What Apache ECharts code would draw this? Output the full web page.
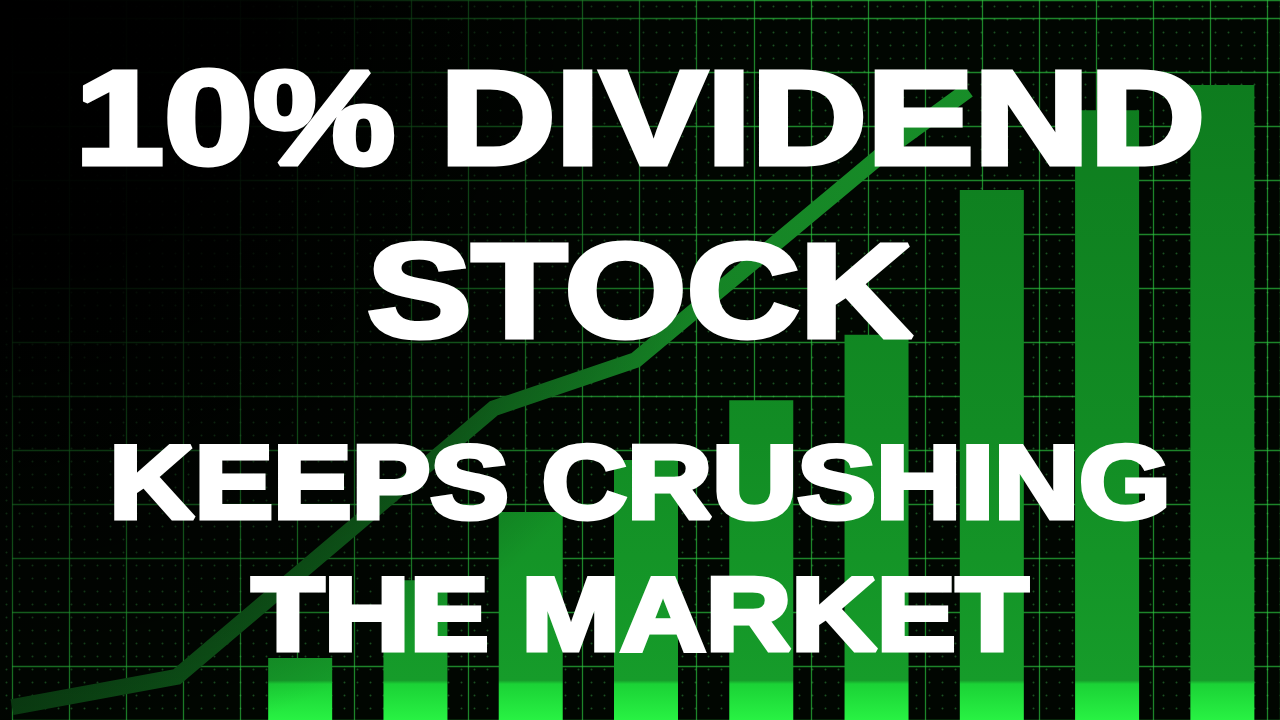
<!DOCTYPE html>
<html>
<head>
<meta charset="utf-8">
<script src="https://cdn.jsdelivr.net/npm/echarts@6/dist/echarts.min.js"></script>
<style>
html,body{margin:0;padding:0;background:#000;}
#chart{width:1280px;height:720px;}
</style>
</head>
<body>
<div id="chart"></div>
<script>
// ---- data ----
const categories = ['1','2','3','4','5','6','7','8','9','10','11'];
const barValues = [null, null, 8.6, 19.4, 28.9, 36.1, 44.4, 53.5, 73.6, 84.7, 88.2];
const lineX = [0, 13.0, 38.0, 49.2, 69.8, 75.4];
const lineY = [1.8, 6.0, 43.3, 50.0, 80.3, 87.5];
const titleLines = ['10% DIVIDEND', 'STOCK', 'KEEPS CRUSHING', 'THE MARKET'];

const chart = echarts.init(document.getElementById('chart'));

// small dot texture for the background cells
const dotCanvas = document.createElement('canvas');
dotCanvas.width = 13; dotCanvas.height = 13;
const dctx = dotCanvas.getContext('2d');
dctx.fillStyle = 'rgba(70,200,90,0.38)';
dctx.beginPath(); dctx.arc(6.5, 6.5, 1.0, 0, Math.PI * 2); dctx.fill();

const barGradient = {
  type: 'linear', x: 0, y: 0, x2: 0, y2: 720, global: true,
  colorStops: [
    {offset: 0, color: '#0d781d'},
    {offset: 0.6, color: '#128c24'},
    {offset: 0.945, color: '#169c2a'},
    {offset: 0.95, color: '#1bd236'},
    {offset: 1, color: '#28f243'}
  ]
};
const lineGradient = {
  type: 'linear', x: 0, y: 0, x2: 1280, y2: 0, global: true,
  colorStops: [
    {offset: 0, color: '#0a3e12'},
    {offset: 0.4, color: '#147c23'},
    {offset: 1, color: '#1a9a2c'}
  ]
};

const textStyleBase = {
  fill: '#ffffff', stroke: '#ffffff', lineWidth: 5,
  fontFamily: '"Liberation Sans", Arial, sans-serif', fontWeight: 'bold',
  textAlign: 'center', textVerticalAlign: 'middle'
};
const textSpecs = [
  {y: 127, size: 134, sx: 1.195},
  {y: 300, size: 134, sx: 1.17},
  {y: 490, size: 103, sx: 1.145},
  {y: 622, size: 103, sx: 1.15}
];

chart.setOption({
  backgroundColor: '#010601',
  animation: false,
  grid: {left: 12, right: 0, top: 0, bottom: 0, containLabel: false},
  xAxis: [
    {type: 'category', data: categories, show: false},
    {type: 'value', min: 0, max: 100, interval: 4.5, show: true,
     axisLine: {show: false}, axisTick: {show: false}, axisLabel: {show: false},
     splitLine: {show: true, lineStyle: {color: 'rgba(45,200,65,0.65)', width: 1.3}}}
  ],
  yAxis: [
    {type: 'value', min: 0, max: 100, interval: 7.5,
     axisLine: {show: false}, axisTick: {show: false}, axisLabel: {show: false},
     splitLine: {show: true, lineStyle: {color: 'rgba(45,200,65,0.65)', width: 1.3}}}
  ],
  series: [
    {type: 'bar', xAxisIndex: 0, yAxisIndex: 0, data: barValues, barWidth: 64,
     itemStyle: {color: barGradient}, z: 2},
    {type: 'line', xAxisIndex: 1, yAxisIndex: 0,
     data: lineX.map((x, i) => [x, lineY[i]]),
     symbol: 'none', lineStyle: {color: lineGradient, width: 16, cap: 'butt', join: 'miter'}, z: 3}
  ],
  graphic: [
    {type: 'rect', shape: {x: 0, y: 0, width: 1280, height: 720}, z: 1, silent: true,
     style: {fill: {image: dotCanvas, repeat: 'repeat'}}},
    {type: 'rect', shape: {x: 0, y: 0, width: 1280, height: 720}, z: 4, silent: true,
     style: {fill: {type: 'radial', x: 0, y: 0, r: 900, global: true,
       colorStops: [
         {offset: 0, color: 'rgba(0,0,0,1)'},
         {offset: 0.3, color: 'rgba(0,0,0,0.95)'},
         {offset: 0.6, color: 'rgba(0,0,0,0.45)'},
         {offset: 0.85, color: 'rgba(0,0,0,0)'},
         {offset: 1, color: 'rgba(0,0,0,0)'}
       ]}}}
  ].concat(titleLines.map((t, i) => ({
    type: 'text', x: 640, y: textSpecs[i].y, scaleX: textSpecs[i].sx, z: 10,
    style: Object.assign({}, textStyleBase, {text: t, fontSize: textSpecs[i].size})
  })))
});
</script>
</body>
</html>
